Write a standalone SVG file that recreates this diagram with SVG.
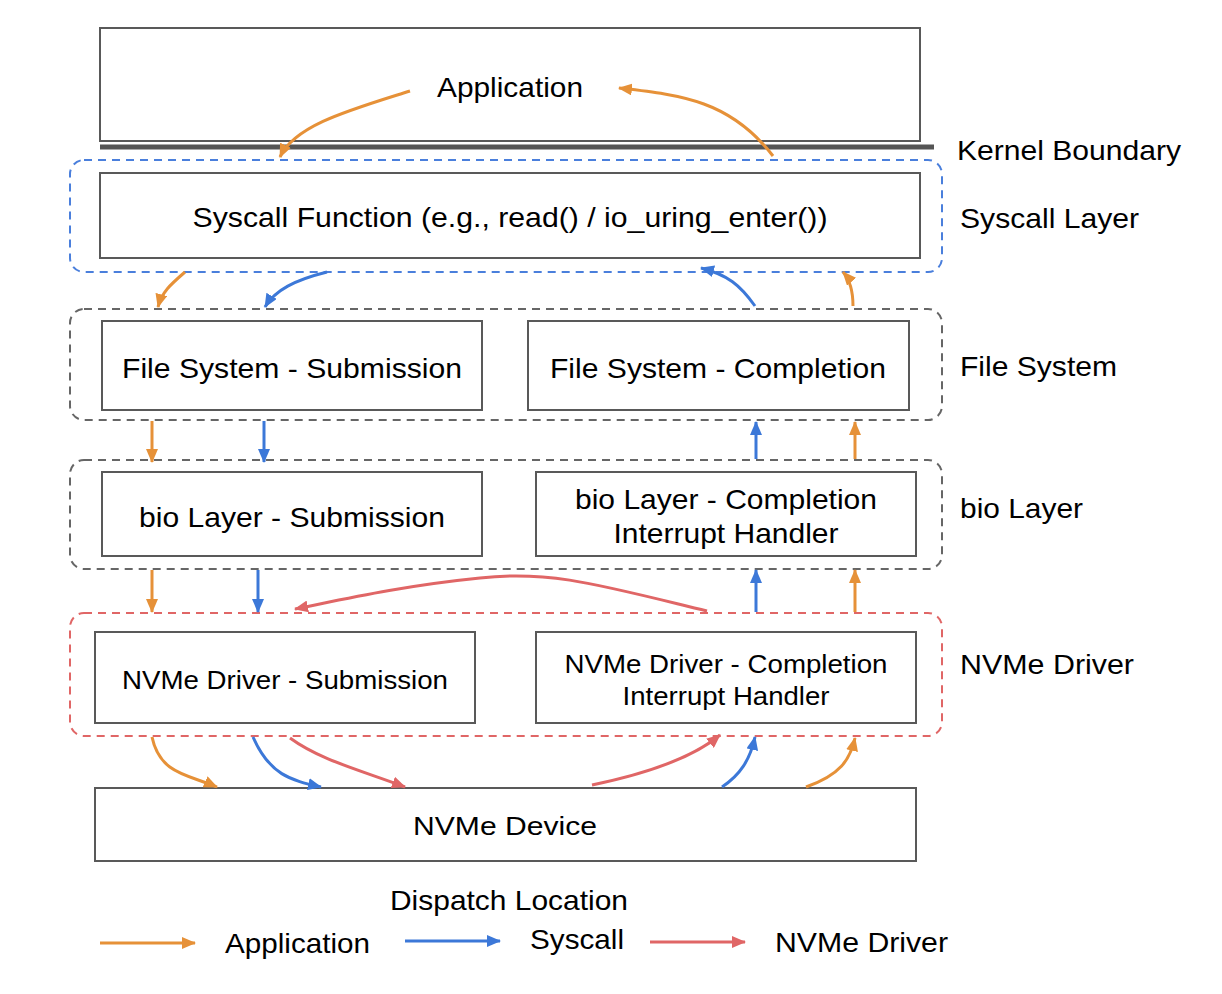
<svg xmlns="http://www.w3.org/2000/svg" width="1222" height="994" viewBox="0 0 1222 994">
<defs>
<marker id="ao" viewBox="0 0 14 12" refX="13" refY="6" markerWidth="14" markerHeight="12" markerUnits="userSpaceOnUse" orient="auto"><path d="M0,0 L14,6 L0,12 Z" fill="#e69138"/></marker>
<marker id="ab" viewBox="0 0 14 12" refX="13" refY="6" markerWidth="14" markerHeight="12" markerUnits="userSpaceOnUse" orient="auto"><path d="M0,0 L14,6 L0,12 Z" fill="#3c78d8"/></marker>
<marker id="ar" viewBox="0 0 14 12" refX="13" refY="6" markerWidth="14" markerHeight="12" markerUnits="userSpaceOnUse" orient="auto"><path d="M0,0 L14,6 L0,12 Z" fill="#e06666"/></marker>
</defs>
<style>
text{font-family:"Liberation Sans",Arial,Helvetica,sans-serif;fill:#000;font-size:28px}
.box{fill:#fff;stroke:#595959;stroke-width:2}
.grp{fill:none;stroke-width:2;stroke-dasharray:8,6}
.gb{stroke:#4a7fdc}
.gg{stroke:#666}
.gr{stroke:#e06666}
.o{fill:none;stroke:#e69138;stroke-width:3;marker-end:url(#ao)}
.b{fill:none;stroke:#3c78d8;stroke-width:3;marker-end:url(#ab)}
.r{fill:none;stroke:#e06666;stroke-width:3;marker-end:url(#ar)}
.m{text-anchor:middle}
.s26{font-size:26px}
</style>
<rect width="1222" height="994" fill="#fff"/>

<g id="groups">
<rect class="grp gb" x="70" y="160" width="872" height="112" rx="14"/>
<rect class="grp gg" x="70" y="309" width="872" height="111" rx="14"/>
<rect class="grp gg" x="70" y="460" width="872" height="109" rx="14"/>
<rect class="grp gr" x="70" y="613" width="872" height="123" rx="14"/>
</g>

<g id="application"><rect class="box" x="100" y="28" width="820" height="113"/><text class="m" x="510" y="97" textLength="146" lengthAdjust="spacingAndGlyphs">Application</text></g>
<g id="kernel-boundary"><line x1="100" y1="147" x2="934" y2="147" stroke="#555" stroke-width="5"/><text x="957" y="160" textLength="224" lengthAdjust="spacingAndGlyphs">Kernel Boundary</text></g>
<g id="syscall"><rect class="box" x="100" y="173" width="820" height="85"/><text class="m" x="510" y="227" textLength="635" lengthAdjust="spacingAndGlyphs">Syscall Function (e.g., read() / io_uring_enter())</text></g>
<g id="fs-sub"><rect class="box" x="102" y="321" width="380" height="89"/><text class="m" x="292" y="378" textLength="340" lengthAdjust="spacingAndGlyphs">File System - Submission</text></g>
<g id="fs-comp"><rect class="box" x="528" y="321" width="381" height="89"/><text class="m" x="718" y="378" textLength="336" lengthAdjust="spacingAndGlyphs">File System - Completion</text></g>
<g id="bio-sub"><rect class="box" x="102" y="472" width="380" height="84"/><text class="m" x="292" y="527" textLength="306" lengthAdjust="spacingAndGlyphs">bio Layer - Submission</text></g>
<g id="bio-comp"><rect class="box" x="536" y="472" width="380" height="84"/><text class="m" x="726" y="509" textLength="302" lengthAdjust="spacingAndGlyphs">bio Layer - Completion</text><text class="m" x="726" y="543" textLength="225" lengthAdjust="spacingAndGlyphs">Interrupt Handler</text></g>
<g id="nvme-sub"><rect class="box" x="95" y="632" width="380" height="91"/><text class="m s26" x="285" y="689" textLength="326" lengthAdjust="spacingAndGlyphs">NVMe Driver - Submission</text></g>
<g id="nvme-comp"><rect class="box" x="536" y="632" width="380" height="91"/><text class="m s26" x="726" y="673" textLength="323" lengthAdjust="spacingAndGlyphs">NVMe Driver - Completion</text><text class="m s26" x="726" y="705" textLength="207" lengthAdjust="spacingAndGlyphs">Interrupt Handler</text></g>
<g id="nvme-device"><rect class="box" x="95" y="788" width="821" height="73"/><text class="m s26" x="505" y="835" textLength="184" lengthAdjust="spacingAndGlyphs">NVMe Device</text></g>

<g id="layer-labels">
<text x="960" y="228" textLength="179" lengthAdjust="spacingAndGlyphs">Syscall Layer</text>
<text x="960" y="376" textLength="157" lengthAdjust="spacingAndGlyphs">File System</text>
<text x="960" y="518" textLength="123" lengthAdjust="spacingAndGlyphs">bio Layer</text>
<text x="960" y="674" textLength="174" lengthAdjust="spacingAndGlyphs">NVMe Driver</text>
</g>

<g id="connectors">
<path class="o" d="M410,91 C350,110 295,125 280,157"/>
<path class="o" d="M773,156 C730,100 680,95 619,88"/>
<path class="o" d="M185,272 C170,285 162,292 158,307"/>
<path class="b" d="M327,272 C295,280 275,290 265,307"/>
<path class="b" d="M755,306 C740,285 728,275 701,268"/>
<path class="o" d="M853,306 C853,290 850,280 843,272"/>
<path class="o" d="M152,421 L152,462"/>
<path class="b" d="M264,421 L264,462"/>
<path class="b" d="M756,459 L756,422"/>
<path class="o" d="M855,459 L855,422"/>
<path class="o" d="M152,570 L152,612"/>
<path class="b" d="M258,570 L258,612"/>
<path class="b" d="M756,612 L756,570"/>
<path class="o" d="M855,612 L855,570"/>
<path class="r" d="M707,611 C600,585 550,570 480,578 C400,586 340,600 295,609"/>
<path class="o" d="M152,737 C160,775 190,775 217,787"/>
<path class="b" d="M253,737 C270,775 290,780 321,787"/>
<path class="r" d="M290,738 C320,760 360,770 405,787"/>
<path class="r" d="M592,785 C640,775 690,760 720,735"/>
<path class="b" d="M722,787 C740,775 750,760 755,737"/>
<path class="o" d="M806,787 C840,775 850,760 855,738"/>
</g>

<g id="legend">
<text class="m" x="509" y="910" textLength="238" lengthAdjust="spacingAndGlyphs">Dispatch Location</text>
<path class="o" d="M100,943 L195,943"/>
<text x="225" y="953" textLength="145" lengthAdjust="spacingAndGlyphs">Application</text>
<path class="b" d="M405,941 L500,941"/>
<text x="530" y="949" textLength="94" lengthAdjust="spacingAndGlyphs">Syscall</text>
<path class="r" d="M650,942 L745,942"/>
<text x="775" y="952" textLength="173" lengthAdjust="spacingAndGlyphs">NVMe Driver</text>
</g>
</svg>
